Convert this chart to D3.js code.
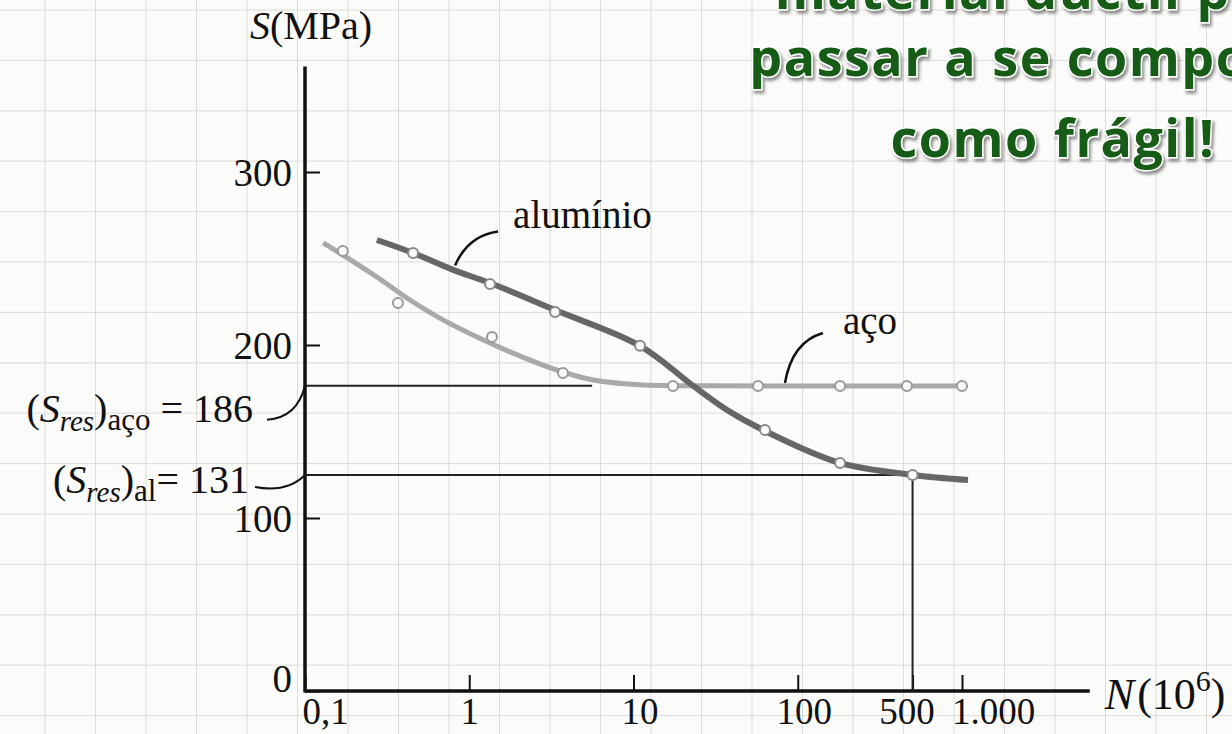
<!DOCTYPE html>
<html>
<head>
<meta charset="utf-8">
<script src="https://cdn.jsdelivr.net/npm/d3@7"></script>
<style>
  html, body { margin: 0; padding: 0; background: #fbfbf9; }
  svg { display: block; }
  .serif { font-family: "Liberation Serif", "DejaVu Serif", serif; fill: #111; }
</style>
</head>
<body>
<svg id="chart" width="1232" height="734"></svg>
<script>
// ---- data ----
var xTicks = [0.1, 1, 10, 100, 500, 1000];
var xTickLabels = ["0,1", "1", "10", "100", "500", "1.000"];
var yTicks = [0, 100, 200, 300];

// measured points, steel (aço)
var acoN = [0.17, 0.368, 1.375, 3.72, 17.4, 57.3, 181, 462, 1000];
var acoS = [254.3, 224.3, 204.6, 183.8, 176.3, 176.3, 176.3, 176.3, 176.3];
// drawn fit curve, steel
var acoCurveN = [0.129, 0.17, 0.274, 0.436, 0.692, 1.115, 1.77, 2.81, 3.72, 5.67, 11.4, 30, 1020];
var acoCurveS = [259, 252, 239.3, 226, 214.5, 204.6, 196, 188.4, 184.4, 179.8, 176.9, 176.4, 176.3];

// measured points, aluminium
var alN = [0.455, 1.338, 3.33, 10.95, 63.2, 181, 500];
var alS = [253.2, 235.3, 219.1, 199.5, 150.9, 131.8, 124.9];
// drawn fit curve, aluminium
var alCurveN = [0.274, 0.455, 0.797, 1.338, 3.33, 10.95, 23, 37.1, 61.4, 181, 500, 1088];
var alCurveS = [260.7, 253.2, 243.4, 235.8, 220.2, 199.5, 176.5, 162.4, 150.9, 131.8, 124.9, 122];

// endurance limits (position in picture, printed value, end of guide line)
var resLevel = [176.5, 124.9];
var resText = ["186", "131"];
var resSub = ["aço", "al"];
var resEndN = [5.6, 500];

var svg = d3.select("#chart");
var W = 1232, H = 734;

// background grid paper
var grid = svg.append("g");
d3.range(45, W, 50.5).forEach(function(gx) {
  grid.append("line").attr("x1", gx).attr("x2", gx).attr("y1", 0).attr("y2", H)
    .attr("stroke", "#dbdbd8").attr("stroke-width", 1);
});
d3.range(10, H, 50.4).forEach(function(gy) {
  grid.append("line").attr("x1", 0).attr("x2", W).attr("y1", gy).attr("y2", gy)
    .attr("stroke", "#dbdbd8").attr("stroke-width", 1);
});

// scales
var x = d3.scaleLog().domain([0.1, 1000]).range([305, 962]);
var y = d3.scaleLinear().domain([0, 300]).range([691, 172]);

// axes
var xShift = [20, 0, 6, 6, -6, 31];
var xAxis = svg.append("g")
  .attr("transform", "translate(0," + y(0) + ")")
  .call(d3.axisBottom(x).tickValues(xTicks)
        .tickFormat(function(d, i) { return xTickLabels[i]; })
        .tickSize(-16).tickPadding(33));
xAxis.select(".domain").remove();
xAxis.selectAll(".tick line").attr("stroke", "#111").attr("stroke-width", 2);
xAxis.selectAll(".tick text").attr("class", "serif").attr("font-size", 37).attr("dy", 0)
  .attr("dx", function(d, i) { return xShift[i]; });

var yAxis = svg.append("g")
  .attr("transform", "translate(" + x(0.1) + ",0)")
  .call(d3.axisLeft(y).tickValues(yTicks).tickSize(-15).tickPadding(13));
yAxis.select(".domain").remove();
yAxis.selectAll(".tick line").attr("stroke", "#111").attr("stroke-width", 2);
yAxis.selectAll(".tick text").attr("class", "serif").attr("font-size", 39)
  .attr("dy", function(d) { return d === 0 ? "0.02em" : "0.34em"; });

// axis lines
svg.append("line").attr("x1", x(0.1)).attr("x2", x(6000)).attr("y1", y(0)).attr("y2", y(0))
  .attr("stroke", "#111").attr("stroke-width", 3.5);
svg.append("line").attr("x1", x(0.1)).attr("x2", x(0.1)).attr("y1", y(0) + 1.5).attr("y2", y(361))
  .attr("stroke", "#111").attr("stroke-width", 3.5);

// axis titles
svg.append("text").attr("class", "serif").attr("x", x(0.1) + 6).attr("y", y(361) - 27)
  .attr("text-anchor", "middle").attr("font-size", 40)
  .html('<tspan font-style="italic">S</tspan>(MPa)');
var nt = svg.append("text").attr("class", "serif").attr("x", x(6000) + 15).attr("y", y(0) + 18)
  .attr("font-size", 44);
nt.append("tspan").attr("font-style", "italic").text("N");
nt.append("tspan").attr("dx", 3).text("(10");
nt.append("tspan").attr("font-size", 30).attr("dy", -18).text("6");
nt.append("tspan").attr("dy", 18).text(")");

// endurance guide lines
resLevel.forEach(function(v, i) {
  svg.append("line").attr("x1", x(0.1)).attr("x2", x(resEndN[i])).attr("y1", y(v)).attr("y2", y(v))
    .attr("stroke", "#222").attr("stroke-width", 2);
});
svg.append("line").attr("x1", x(resEndN[1])).attr("x2", x(resEndN[1]))
  .attr("y1", y(resLevel[1])).attr("y2", y(0))
  .attr("stroke", "#222").attr("stroke-width", 2);

// fit curves
var line = d3.line().x(function(d) { return x(d[0]); }).y(function(d) { return y(d[1]); })
  .curve(d3.curveCatmullRom.alpha(0.5));
svg.append("path").datum(d3.zip(acoCurveN, acoCurveS)).attr("d", line)
  .attr("fill", "none").attr("stroke", "#a9a9a9").attr("stroke-width", 5);
svg.append("path").datum(d3.zip(alCurveN, alCurveS)).attr("d", line)
  .attr("fill", "none").attr("stroke", "#666").attr("stroke-width", 6);

// markers
svg.selectAll(".mk-aco").data(d3.zip(acoN, acoS)).enter().append("circle")
  .attr("cx", function(d) { return x(d[0]); }).attr("cy", function(d) { return y(d[1]); })
  .attr("r", 5).attr("fill", "#fbfbf9").attr("stroke", "#9a9a9a").attr("stroke-width", 2);
svg.selectAll(".mk-al").data(d3.zip(alN, alS)).enter().append("circle")
  .attr("cx", function(d) { return x(d[0]); }).attr("cy", function(d) { return y(d[1]); })
  .attr("r", 5).attr("fill", "#fbfbf9").attr("stroke", "#8a8a8a").attr("stroke-width", 2);

// series labels with leaders
svg.append("text").attr("class", "serif").attr("x", x(0.82) + 58).attr("y", y(246) - 37)
  .attr("font-size", 39).text("alumínio");
svg.append("path")
  .attr("d", "M" + (x(0.82) + 43) + "," + (y(246) - 34) + " Q" + (x(0.82) + 13) + "," + (y(246) - 30) + " " + x(0.82) + "," + y(246))
  .attr("fill", "none").attr("stroke", "#111").attr("stroke-width", 2.5);
svg.append("text").attr("class", "serif").attr("x", x(83.6) + 58).attr("y", y(176.3) - 52)
  .attr("font-size", 39).text("aço");
svg.append("path")
  .attr("d", "M" + (x(83.6) + 38) + "," + (y(176.3) - 53) + " Q" + (x(83.6) + 7) + "," + (y(176.3) - 44) + " " + x(83.6) + "," + (y(176.3) - 3))
  .attr("fill", "none").attr("stroke", "#111").attr("stroke-width", 2.5);

// endurance limit labels
var lblRight = [253, 249];
var lblDy = [36, 18];
resLevel.forEach(function(v, i) {
  var t = svg.append("text").attr("class", "serif").attr("x", lblRight[i]).attr("y", y(v) + lblDy[i])
    .attr("text-anchor", "end").attr("font-size", 40);
  t.append("tspan").text("(");
  t.append("tspan").attr("font-style", "italic").text("S");
  t.append("tspan").attr("font-style", "italic").attr("font-size", 29).attr("dy", 9).text("res");
  t.append("tspan").attr("dy", -9).text(")");
  t.append("tspan").attr("font-size", 31).attr("dy", 8).text(resSub[i]);
  t.append("tspan").attr("dy", -8).text(i === 0 ? " = " + resText[i] : "= " + resText[i]);
  var ly = y(v) + lblDy[i] - (i === 0 ? 2 : 6);
  var lx = lblRight[i] + (i === 0 ? 14 : 6);
  svg.append("path")
    .attr("d", i === 0
      ? "M" + lx + "," + ly + " Q" + (x(0.1) - 8) + "," + (ly - 2) + " " + x(0.1) + "," + y(v)
      : "M" + lx + "," + ly + " Q" + (x(0.1) - 18) + "," + (ly + 6) + " " + x(0.1) + "," + y(v))
    .attr("fill", "none").attr("stroke", "#111").attr("stroke-width", 2);
});

// green slide text
var defs = svg.append("defs");
var f = defs.append("filter").attr("id", "shadow").attr("x", "-10%").attr("y", "-20%")
  .attr("width", "130%").attr("height", "150%");
f.append("feDropShadow").attr("dx", 2).attr("dy", 3).attr("stdDeviation", 1.5)
  .attr("flood-color", "#444").attr("flood-opacity", 0.6);
var slide = ["material dúctil pode", "passar a se comportar", "como frágil!"];
var slideY = [9, 76, 157];
slide.forEach(function(s, i) {
  svg.append("text").attr("x", 1053).attr("y", slideY[i]).attr("text-anchor", "middle")
    .attr("font-family", "'Open Sans', sans-serif").attr("font-weight", 700)
    .attr("font-size", 52).attr("letter-spacing", 1.5)
    .attr("fill", "#125c16").attr("stroke", "#ffffff").attr("stroke-width", 3)
    .attr("paint-order", "stroke").attr("filter", "url(#shadow)")
    .text(s);
});
</script>
</body>
</html>
